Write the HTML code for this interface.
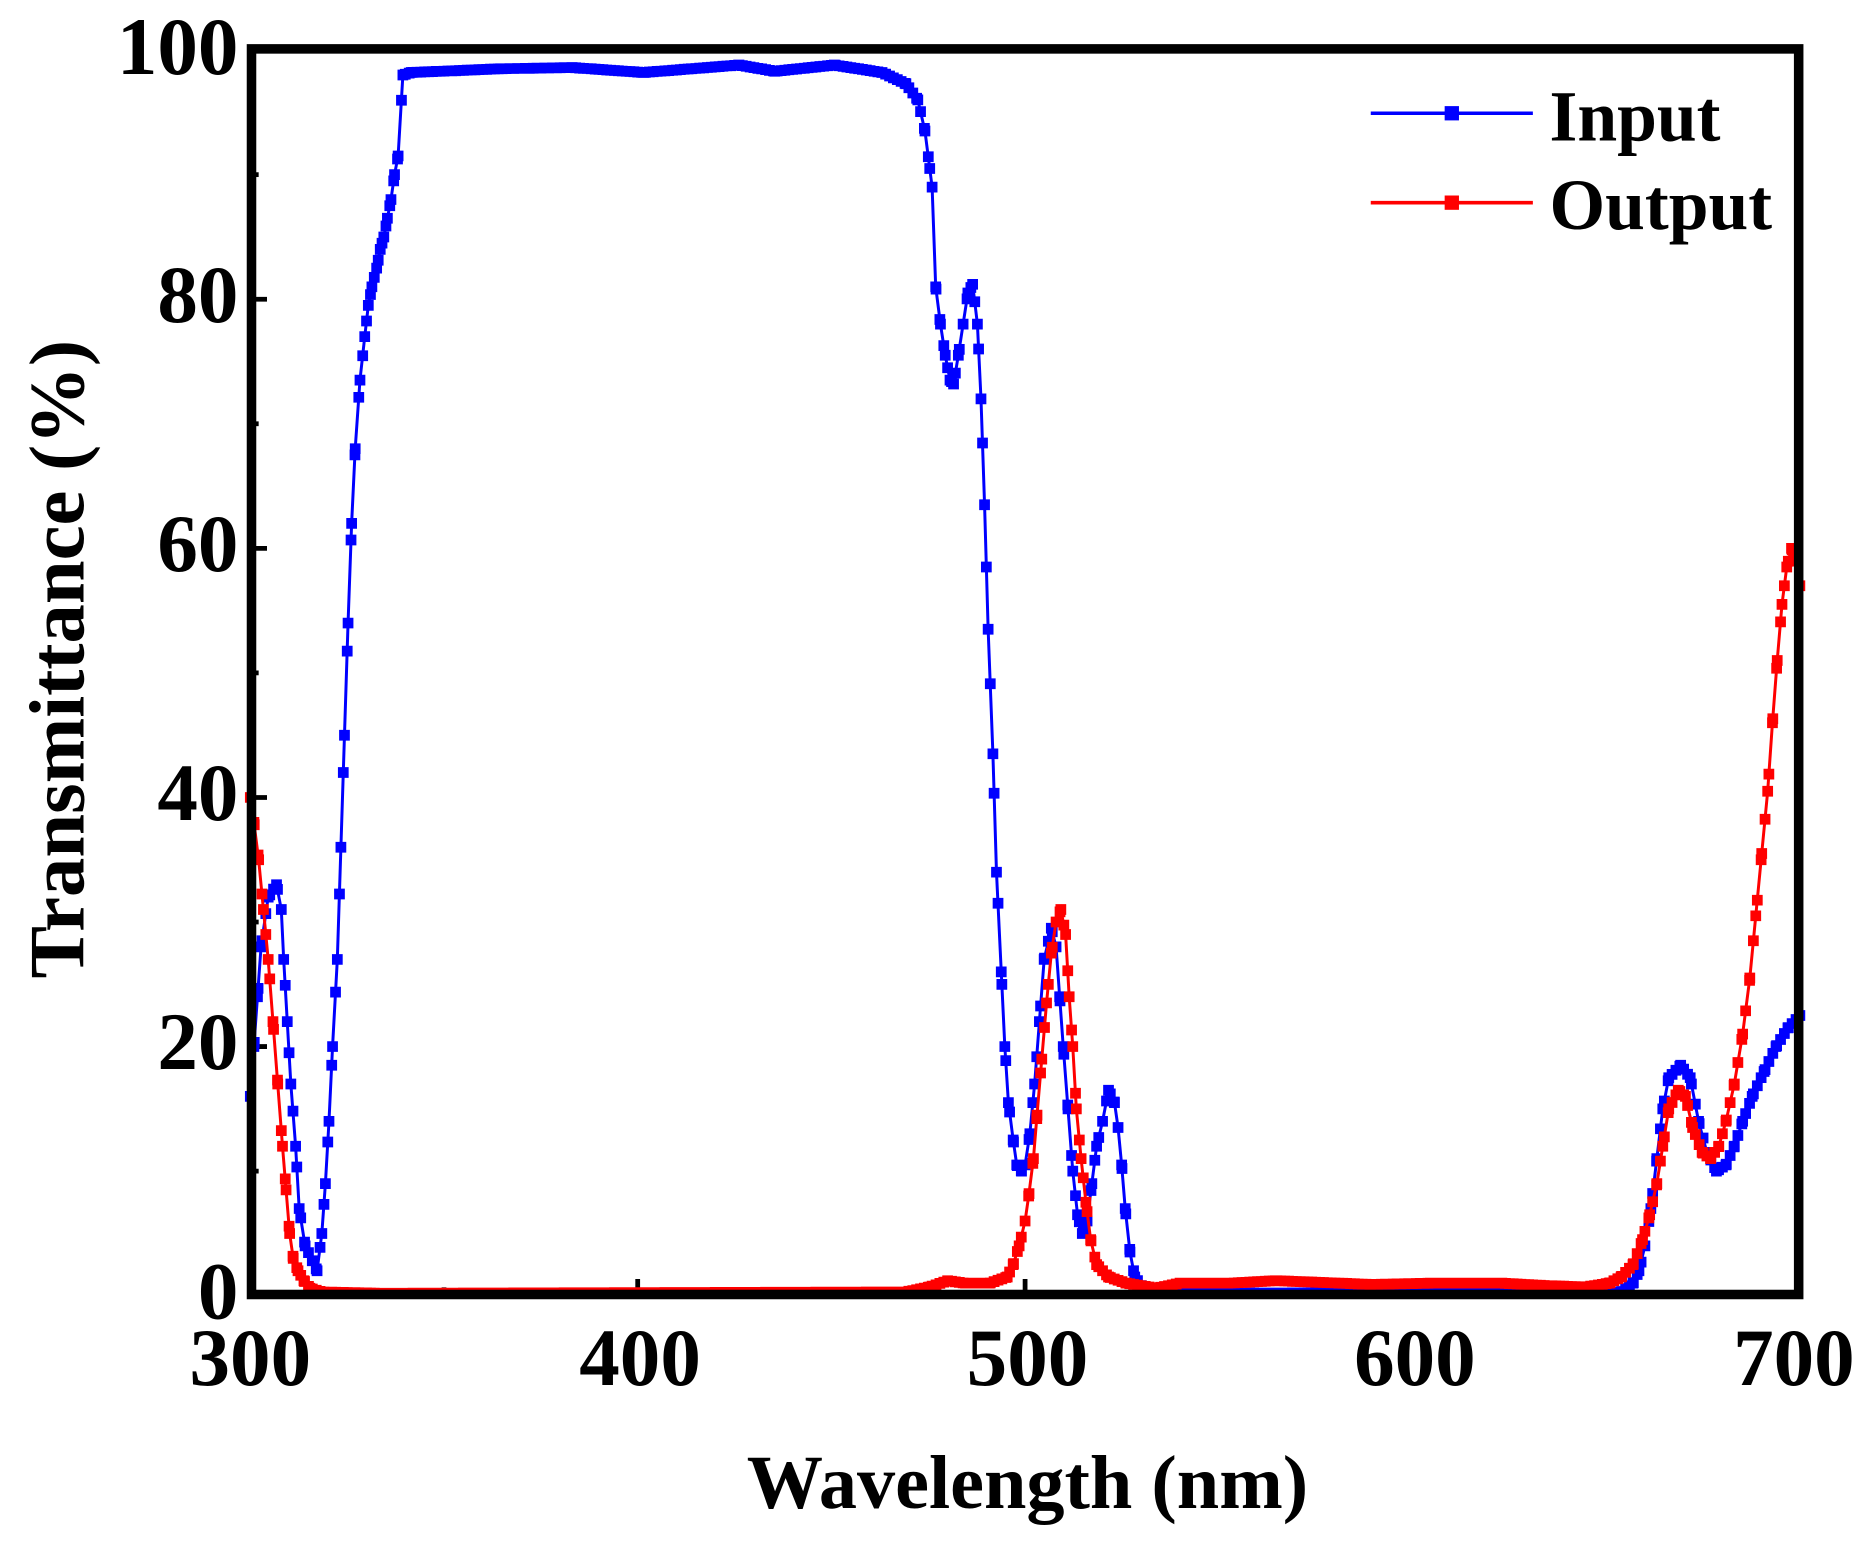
<!DOCTYPE html>
<html><head><meta charset="utf-8"><style>
html,body{margin:0;padding:0;background:#fff;}
svg{display:block;}
text{font-family:"Liberation Serif",serif;font-weight:bold;fill:#000;}
</style></head><body>
<svg id="s" width="1869" height="1544" viewBox="0 0 1568 1295.3" xmlns="http://www.w3.org/2000/svg">
<rect x="0" y="0" width="1568" height="1296" fill="#fff"/>
<g id="ticks" stroke="#000" stroke-width="4"></g>
<g id="series"></g>
<rect x="211" y="41" width="1298" height="1045" fill="none" stroke="#000" stroke-width="8"/>
<g font-size="68" text-anchor="middle">
<text x="210" y="1162">300</text><text x="537" y="1162">400</text><text x="862" y="1162">500</text><text x="1187" y="1162">600</text><text x="1505" y="1162">700</text>
</g>
<g font-size="68" text-anchor="end">
<text x="200" y="1106">0</text><text x="200" y="897">20</text><text x="200" y="688">40</text><text x="200" y="479">60</text><text x="200" y="270">80</text><text x="200" y="62">100</text>
</g>
<text x="862" y="1265" font-size="64" text-anchor="middle">Wavelength (nm)</text>
<text transform="translate(70,553) rotate(-90)" font-size="66" text-anchor="middle">Transmittance (%)</text>
<line x1="1150" y1="95" x2="1286" y2="95" stroke="#0000ff" stroke-width="3"/>
<rect x="1212" y="89" width="12" height="12" fill="#0000ff"/>
<text x="1300" y="118" font-size="60">Input</text>
<line x1="1150" y1="170" x2="1286" y2="170" stroke="#ff0000" stroke-width="3"/>
<rect x="1212" y="164" width="12" height="12" fill="#ff0000"/>
<text x="1300" y="192" font-size="60">Output</text>
</svg>
<script>
var NS="http://www.w3.org/2000/svg";
function Y(v){return 1087-v*10.45;}
var tk=document.getElementById("ticks");
function ln(x1,y1,x2,y2){var l=document.createElementNS(NS,"line");l.setAttribute("x1",x1);l.setAttribute("y1",y1);l.setAttribute("x2",x2);l.setAttribute("y2",y2);tk.appendChild(l);}
for(var w=300;w<=700;w+=50){var x=210+(w-300)*3.25;ln(x,1087,x,w%100==0?1073:1080);}
for(var v=0;v<=100;v+=10){var y=Y(v);ln(210,y,v%20==0?224:217,y);}
var blue=[[210,16],[213,20],[216,24],[219,28],[225,32],[232,33],[236,31],[238,27],[241,22],[244,17],[248,12],[251,7],[256,4],[266,2],[270,5],[273,9],[276,14],[279,20],[283,27],[286,36],[289,45],[292,54],[295,62],[298,68],[302,73.5],[306,77],[309,79.5],[312,81],[316,82.5],[319,84],[322,85],[325,86.5],[328,88],[331,90],[334,91.5],[338,98],[345,98.2],[420,98.5],[480,98.6],[540,98.2],[580,98.5],[620,98.8],[650,98.3],[700,98.8],[740,98.2],[760,97.3],[770,96],[776,93.5],[780,90.5],[782,89],[785,81],[789,78],[793,75.5],[797,73.5],[800,73.2],[804,75.5],[808,78],[812,80.5],[816,81.2],[820,78],[823,72],[826,63.5],[829,53.5],[833,43.5],[836,34],[840,26],[843,20],[846,15.5],[850,12.5],[853,10.5],[857,10],[860,10.5],[864,13],[868,17],[872,22],[876,27],[882,29.5],[886,28],[889,24],[892,20],[896,15],[900,10],[904,6.5],[908,5],[912,6],[916,9],[920,12],[925,14],[930,16.5],[935,15.5],[938,13.5],[941,10.5],[944,7],[948,3.5],[952,1.5],[960,0.5],[990,0.2],[1360,0.3],[1370,1],[1375,2],[1380,4],[1385,7],[1390,11],[1395,15],[1400,17.5],[1410,18.5],[1418,17.5],[1425,14],[1432,11.5],[1440,10],[1448,10.5],[1455,12],[1462,14],[1470,16],[1480,18],[1490,20],[1500,21.5],[1510,22.5]];
var red=[[210,40],[213,38],[217,35],[221,31],[225,27],[229,22],[233,17],[237,12],[240,8.5],[243,5],[246,3],[250,2],[255,1.2],[260,0.6],[270,0.3],[320,0.2],[760,0.3],[780,0.7],[795,1.2],[810,1],[830,1],[845,1.5],[850,2.5],[855,4],[860,6],[863,8],[867,11],[870,14.5],[874,19],[878,23.5],[882,27.5],[886,30],[890,31],[894,29],[897,24],[900,20],[903,15],[907,11],[911,7.5],[915,4.5],[920,2.5],[930,1.5],[945,1],[970,0.6],[990,1],[1030,1],[1070,1.2],[1100,1.1],[1150,0.9],[1200,1],[1260,1],[1300,0.8],[1330,0.7],[1350,1],[1360,1.5],[1370,2.5],[1378,4.5],[1384,6.5],[1390,9],[1395,12],[1400,15],[1408,16.5],[1414,16],[1420,13.5],[1428,11.5],[1435,11],[1442,12],[1448,14],[1455,17],[1462,21],[1468,25.5],[1473,30.5],[1478,35.5],[1483,40.5],[1487,46],[1491,51],[1495,55.5],[1499,58.5],[1503,60],[1507,59],[1510,57]];
var g=document.getElementById("series");
function interp(d,x){for(var i=1;i<d.length;i++){if(x<=d[i][0]){var a=d[i-1],b=d[i],t=(x-a[0])/(b[0]-a[0]);return a[1]+t*(b[1]-a[1]);}}return d[d.length-1][1];}
function draw(d,c){
 var pts=d.map(function(p){return p[0]+","+Y(p[1]).toFixed(1);}).join(" ");
 var pl=document.createElementNS(NS,"polyline");pl.setAttribute("points",pts);pl.setAttribute("fill","none");pl.setAttribute("stroke",c);pl.setAttribute("stroke-width","2.5");g.appendChild(pl);
 var path="",h=4.5;
 for(var x=210;x<=1510;x+=3.25){var y=Y(interp(d,x));path+="M"+(x-h).toFixed(1)+" "+(y-h).toFixed(1)+"h9v9h-9z";}
 for(var i=0;i<d.length;i++){var y=Y(d[i][1]);path+="M"+(d[i][0]-h)+" "+(y-h).toFixed(1)+"h9v9h-9z";}
 var p=document.createElementNS(NS,"path");p.setAttribute("d",path);p.setAttribute("fill",c);g.appendChild(p);
}
draw(blue,"#0000ff");draw(red,"#ff0000");
</script>
</body></html>
